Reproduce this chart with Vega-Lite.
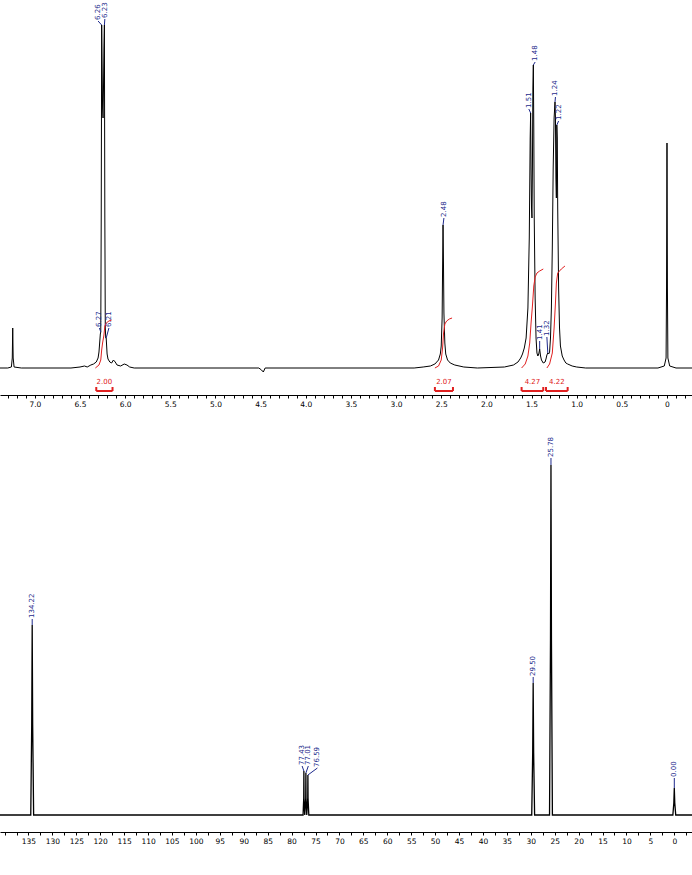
{
  "$schema": "https://vega.github.io/schema/vega-lite/v6.json",
  "padding": 0,
  "spacing": 14,
  "background": "white",
  "config": {
    "view": {"stroke": null},
    "axis": {"labelFont": "DejaVu Sans", "labelFontSize": 7.5, "labelColor": "black", "domainColor": "black", "tickColor": "black", "grid": false, "labelPadding": 2, "labelFlush": false, "labelOverlap": false, "domainWidth": 1, "tickWidth": 1, "tickSize": 3, "tickCount": 300}
  },
  "datasets": {
    "h1": [
      {"ppm": 7.386, "i": 0}, {"ppm": 7.30, "i": 0}, {"ppm": 7.26, "i": 1}, {"ppm": 7.25, "i": 10}, {"ppm": 7.245, "i": 40}, {"ppm": 7.24, "i": 10}, {"ppm": 7.23, "i": 1}, {"ppm": 7.15, "i": 0},
      {"ppm": 6.60, "i": 0}, {"ppm": 6.50, "i": 1}, {"ppm": 6.45, "i": 2}, {"ppm": 6.42, "i": 1}, {"ppm": 6.38, "i": 3}, {"ppm": 6.35, "i": 4}, {"ppm": 6.32, "i": 6}, {"ppm": 6.30, "i": 10}, {"ppm": 6.29, "i": 16}, {"ppm": 6.28, "i": 28}, {"ppm": 6.275, "i": 34}, {"ppm": 6.27, "i": 36},
      {"ppm": 6.265, "i": 150}, {"ppm": 6.26, "i": 343}, {"ppm": 6.255, "i": 300}, {"ppm": 6.25, "i": 260}, {"ppm": 6.245, "i": 250}, {"ppm": 6.24, "i": 280}, {"ppm": 6.235, "i": 320}, {"ppm": 6.23, "i": 343}, {"ppm": 6.225, "i": 150}, {"ppm": 6.22, "i": 40}, {"ppm": 6.215, "i": 30}, {"ppm": 6.21, "i": 30}, {"ppm": 6.205, "i": 22}, {"ppm": 6.20, "i": 14}, {"ppm": 6.19, "i": 9}, {"ppm": 6.17, "i": 6}, {"ppm": 6.15, "i": 5}, {"ppm": 6.13, "i": 8}, {"ppm": 6.11, "i": 6}, {"ppm": 6.09, "i": 3}, {"ppm": 6.05, "i": 2}, {"ppm": 6.01, "i": 4}, {"ppm": 5.98, "i": 3}, {"ppm": 5.95, "i": 1}, {"ppm": 5.90, "i": 0},
      {"ppm": 4.52, "i": 0}, {"ppm": 4.49, "i": -2}, {"ppm": 4.47, "i": -4}, {"ppm": 4.45, "i": 0},
      {"ppm": 2.80, "i": 0}, {"ppm": 2.70, "i": 1}, {"ppm": 2.62, "i": 2}, {"ppm": 2.57, "i": 4}, {"ppm": 2.53, "i": 8}, {"ppm": 2.51, "i": 14}, {"ppm": 2.50, "i": 22}, {"ppm": 2.49, "i": 50}, {"ppm": 2.485, "i": 100}, {"ppm": 2.48, "i": 143}, {"ppm": 2.475, "i": 105}, {"ppm": 2.47, "i": 55}, {"ppm": 2.46, "i": 25}, {"ppm": 2.45, "i": 14}, {"ppm": 2.43, "i": 8}, {"ppm": 2.40, "i": 5}, {"ppm": 2.35, "i": 3}, {"ppm": 2.25, "i": 1}, {"ppm": 2.10, "i": 0},
      {"ppm": 1.80, "i": 1}, {"ppm": 1.70, "i": 3}, {"ppm": 1.65, "i": 6}, {"ppm": 1.62, "i": 10}, {"ppm": 1.60, "i": 14}, {"ppm": 1.58, "i": 20}, {"ppm": 1.56, "i": 30}, {"ppm": 1.54, "i": 60}, {"ppm": 1.525, "i": 130}, {"ppm": 1.515, "i": 230}, {"ppm": 1.51, "i": 255}, {"ppm": 1.505, "i": 200}, {"ppm": 1.50, "i": 160}, {"ppm": 1.495, "i": 150}, {"ppm": 1.49, "i": 200}, {"ppm": 1.485, "i": 280}, {"ppm": 1.48, "i": 303}, {"ppm": 1.475, "i": 240}, {"ppm": 1.47, "i": 150}, {"ppm": 1.46, "i": 70}, {"ppm": 1.45, "i": 30}, {"ppm": 1.44, "i": 15}, {"ppm": 1.43, "i": 12}, {"ppm": 1.42, "i": 14}, {"ppm": 1.41, "i": 19}, {"ppm": 1.40, "i": 12}, {"ppm": 1.39, "i": 8}, {"ppm": 1.37, "i": 5}, {"ppm": 1.35, "i": 6}, {"ppm": 1.34, "i": 9}, {"ppm": 1.33, "i": 13}, {"ppm": 1.32, "i": 15}, {"ppm": 1.31, "i": 14}, {"ppm": 1.30, "i": 16}, {"ppm": 1.29, "i": 30}, {"ppm": 1.28, "i": 60}, {"ppm": 1.27, "i": 120}, {"ppm": 1.26, "i": 200}, {"ppm": 1.25, "i": 250}, {"ppm": 1.24, "i": 266}, {"ppm": 1.235, "i": 250}, {"ppm": 1.23, "i": 190}, {"ppm": 1.225, "i": 170}, {"ppm": 1.22, "i": 243}, {"ppm": 1.215, "i": 230}, {"ppm": 1.21, "i": 160}, {"ppm": 1.20, "i": 80}, {"ppm": 1.19, "i": 40}, {"ppm": 1.18, "i": 22}, {"ppm": 1.16, "i": 12}, {"ppm": 1.14, "i": 8}, {"ppm": 1.12, "i": 5}, {"ppm": 1.10, "i": 4}, {"ppm": 1.05, "i": 2}, {"ppm": 1.00, "i": 1}, {"ppm": 0.90, "i": 0},
      {"ppm": 0.10, "i": 0}, {"ppm": 0.03, "i": 2}, {"ppm": 0.01, "i": 10}, {"ppm": 0.005, "i": 80}, {"ppm": 0.0, "i": 225}, {"ppm": -0.005, "i": 80}, {"ppm": -0.01, "i": 10}, {"ppm": -0.03, "i": 2}, {"ppm": -0.10, "i": 0}, {"ppm": -0.277, "i": 0}
    ],
    "h1lab": [
      {"label": "6.27", "ppm": 6.27, "top": 36, "lx": 6.285, "ly": 40},
      {"label": "6.21", "ppm": 6.21, "top": 30, "lx": 6.18, "ly": 40},
      {"label": "6.26", "ppm": 6.26, "top": 343, "lx": 6.30, "ly": 347},
      {"label": "6.23", "ppm": 6.23, "top": 343, "lx": 6.225, "ly": 349},
      {"label": "2.48", "ppm": 2.48, "top": 143, "lx": 2.47, "ly": 150},
      {"label": "1.51", "ppm": 1.51, "top": 255, "lx": 1.53, "ly": 259},
      {"label": "1.48", "ppm": 1.48, "top": 303, "lx": 1.46, "ly": 306},
      {"label": "1.41", "ppm": 1.41, "top": 19, "lx": 1.41, "ly": 27},
      {"label": "1.32", "ppm": 1.32, "top": 15, "lx": 1.33, "ly": 31},
      {"label": "1.24", "ppm": 1.24, "top": 266, "lx": 1.235, "ly": 271},
      {"label": "1.22", "ppm": 1.22, "top": 243, "lx": 1.20, "ly": 247}
    ],
    "h1int": [
      {"g": "a", "ppm": 6.33, "i": 0}, {"g": "a", "ppm": 6.29, "i": 3}, {"g": "a", "ppm": 6.27, "i": 8}, {"g": "a", "ppm": 6.26, "i": 18}, {"g": "a", "ppm": 6.25, "i": 25}, {"g": "a", "ppm": 6.235, "i": 33}, {"g": "a", "ppm": 6.225, "i": 42}, {"g": "a", "ppm": 6.21, "i": 45}, {"g": "a", "ppm": 6.18, "i": 47}, {"g": "a", "ppm": 6.15, "i": 48},
      {"g": "b", "ppm": 2.57, "i": 0}, {"g": "b", "ppm": 2.53, "i": 2}, {"g": "b", "ppm": 2.50, "i": 8}, {"g": "b", "ppm": 2.485, "i": 20}, {"g": "b", "ppm": 2.475, "i": 34}, {"g": "b", "ppm": 2.46, "i": 44}, {"g": "b", "ppm": 2.44, "i": 47}, {"g": "b", "ppm": 2.41, "i": 49}, {"g": "b", "ppm": 2.38, "i": 50},
      {"g": "c", "ppm": 1.61, "i": 0}, {"g": "c", "ppm": 1.57, "i": 4}, {"g": "c", "ppm": 1.54, "i": 12}, {"g": "c", "ppm": 1.52, "i": 25}, {"g": "c", "ppm": 1.505, "i": 45}, {"g": "c", "ppm": 1.49, "i": 62}, {"g": "c", "ppm": 1.475, "i": 82}, {"g": "c", "ppm": 1.46, "i": 91}, {"g": "c", "ppm": 1.44, "i": 95}, {"g": "c", "ppm": 1.41, "i": 97}, {"g": "c", "ppm": 1.37, "i": 99},
      {"g": "d", "ppm": 1.33, "i": 0}, {"g": "d", "ppm": 1.30, "i": 4}, {"g": "d", "ppm": 1.27, "i": 15}, {"g": "d", "ppm": 1.25, "i": 40}, {"g": "d", "ppm": 1.235, "i": 65}, {"g": "d", "ppm": 1.225, "i": 85}, {"g": "d", "ppm": 1.21, "i": 95}, {"g": "d", "ppm": 1.17, "i": 99}, {"g": "d", "ppm": 1.13, "i": 102}
    ],
    "h1br": [
      {"label": "2.00", "from": 6.32, "to": 6.14, "c": 6.23},
      {"label": "2.07", "from": 2.57, "to": 2.37, "c": 2.47},
      {"label": "4.27", "from": 1.61, "to": 1.37, "c": 1.49},
      {"label": "4.22", "from": 1.34, "to": 1.10, "c": 1.22}
    ],
    "c13": [
      {"ppm": 140.95, "i": 0}, {"ppm": 134.52, "i": 0}, {"ppm": 134.32, "i": 90}, {"ppm": 134.22, "i": 190}, {"ppm": 134.12, "i": 90}, {"ppm": 133.92, "i": 0},
      {"ppm": 77.6, "i": 0}, {"ppm": 77.46, "i": 17}, {"ppm": 77.43, "i": 44}, {"ppm": 77.40, "i": 17}, {"ppm": 77.25, "i": 0}, {"ppm": 77.04, "i": 17}, {"ppm": 77.01, "i": 42}, {"ppm": 76.98, "i": 17}, {"ppm": 76.83, "i": 0}, {"ppm": 76.62, "i": 17}, {"ppm": 76.59, "i": 40}, {"ppm": 76.56, "i": 17}, {"ppm": 76.4, "i": 0},
      {"ppm": 29.8, "i": 0}, {"ppm": 29.6, "i": 62}, {"ppm": 29.5, "i": 132}, {"ppm": 29.4, "i": 62}, {"ppm": 29.2, "i": 0},
      {"ppm": 26.08, "i": 0}, {"ppm": 25.88, "i": 175}, {"ppm": 25.78, "i": 350}, {"ppm": 25.68, "i": 175}, {"ppm": 25.48, "i": 0},
      {"ppm": 0.3, "i": 0}, {"ppm": 0.1, "i": 12}, {"ppm": 0.0, "i": 27}, {"ppm": -0.1, "i": 12}, {"ppm": -0.3, "i": 0}, {"ppm": -3.7, "i": 0}
    ],
    "c13lab": [
      {"label": "134.22", "ppm": 134.22, "top": 190, "lx": 134.22, "ly": 196},
      {"label": "77.43", "ppm": 77.43, "top": 44, "lx": 77.8, "ly": 49},
      {"label": "77.01", "ppm": 77.01, "top": 42, "lx": 76.5, "ly": 49},
      {"label": "76.59", "ppm": 76.59, "top": 40, "lx": 74.6, "ly": 47},
      {"label": "29.50", "ppm": 29.5, "top": 132, "lx": 29.5, "ly": 138},
      {"label": "25.78", "ppm": 25.78, "top": 350, "lx": 25.78, "ly": 357},
      {"label": "0.00", "ppm": 0.0, "top": 27, "lx": 0.0, "ly": 37}
    ]
  },
  "vconcat": [
    {
      "width": 692,
      "height": 395,
      "layer": [
        {
          "data": {"name": "h1"},
          "mark": {"type": "line", "color": "black", "strokeWidth": 1, "clip": true},
          "encoding": {
            "x": {"field": "ppm", "type": "quantitative", "title": null, "scale": {"domain": [-0.277, 7.386], "reverse": true, "nice": false, "zero": false},
              "axis": {"title": null, "tickCount": 300, "values": [-0.2,-0.1,0,0.1,0.2,0.3,0.4,0.5,0.6,0.7,0.8,0.9,1,1.1,1.2,1.3,1.4,1.5,1.6,1.7,1.8,1.9,2,2.1,2.2,2.3,2.4,2.5,2.6,2.7,2.8,2.9,3,3.1,3.2,3.3,3.4,3.5,3.6,3.7,3.8,3.9,4,4.1,4.2,4.3,4.4,4.5,4.6,4.7,4.8,4.9,5,5.1,5.2,5.3,5.4,5.5,5.6,5.7,5.8,5.9,6,6.1,6.2,6.3,6.4,6.5,6.6,6.7,6.8,6.9,7,7.1,7.2,7.3],
                "labelExpr": "abs(datum.value*2 - round(datum.value*2)) < 0.01 ? (datum.value == 0 ? '0' : format(datum.value, '.1f')) : ''"}},
            "y": {"field": "i", "type": "quantitative", "scale": {"domain": [-27, 368], "nice": false, "zero": false}, "axis": null}
          }
        },
        {
          "data": {"name": "h1int"},
          "mark": {"type": "line", "color": "#e02020", "strokeWidth": 1, "clip": true},
          "encoding": {
            "x": {"field": "ppm", "type": "quantitative", "title": null, "scale": {"domain": [-0.277, 7.386], "reverse": true, "nice": false, "zero": false}},
            "y": {"field": "i", "type": "quantitative", "scale": {"domain": [-27, 368], "nice": false, "zero": false}, "axis": null},
            "detail": {"field": "g"}
          }
        },
        {
          "data": {"name": "h1lab"},
          "mark": {"type": "rule", "color": "#1e2a8c", "strokeWidth": 1},
          "encoding": {
            "x": {"field": "ppm", "type": "quantitative", "title": null, "scale": {"domain": [-0.277, 7.386], "reverse": true, "nice": false, "zero": false}},
            "x2": {"field": "lx"},
            "y": {"field": "top", "type": "quantitative", "scale": {"domain": [-27, 368], "nice": false, "zero": false}, "axis": null},
            "y2": {"field": "ly"}
          }
        },
        {
          "data": {"name": "h1lab"},
          "mark": {"type": "text", "angle": 270, "align": "left", "baseline": "middle", "dx": 1, "fontSize": 7, "font": "DejaVu Sans", "color": "#1e2a8c"},
          "encoding": {
            "x": {"field": "lx", "type": "quantitative", "title": null, "scale": {"domain": [-0.277, 7.386], "reverse": true, "nice": false, "zero": false}},
            "y": {"field": "ly", "type": "quantitative", "scale": {"domain": [-27, 368], "nice": false, "zero": false}, "axis": null},
            "text": {"field": "label"}
          }
        },
        {
          "data": {"name": "h1br"},
          "mark": {"type": "rule", "color": "#e02020", "strokeWidth": 2},
          "encoding": {
            "x": {"field": "from", "type": "quantitative", "title": null, "scale": {"domain": [-0.277, 7.386], "reverse": true, "nice": false, "zero": false}},
            "x2": {"field": "to"},
            "y": {"datum": -23, "type": "quantitative", "scale": {"domain": [-27, 368], "nice": false, "zero": false}, "axis": null}
          }
        },
        {
          "data": {"name": "h1br"},
          "mark": {"type": "rule", "color": "#e02020", "strokeWidth": 2},
          "encoding": {
            "x": {"field": "from", "type": "quantitative", "title": null, "scale": {"domain": [-0.277, 7.386], "reverse": true, "nice": false, "zero": false}},
            "y": {"datum": -23, "type": "quantitative", "scale": {"domain": [-27, 368], "nice": false, "zero": false}, "axis": null},
            "y2": {"datum": -19}
          }
        },
        {
          "data": {"name": "h1br"},
          "mark": {"type": "rule", "color": "#e02020", "strokeWidth": 2},
          "encoding": {
            "x": {"field": "to", "type": "quantitative", "title": null, "scale": {"domain": [-0.277, 7.386], "reverse": true, "nice": false, "zero": false}},
            "y": {"datum": -23, "type": "quantitative", "scale": {"domain": [-27, 368], "nice": false, "zero": false}, "axis": null},
            "y2": {"datum": -19}
          }
        },
        {
          "data": {"name": "h1br"},
          "mark": {"type": "text", "align": "center", "baseline": "middle", "fontSize": 7, "font": "DejaVu Sans", "color": "#e02020"},
          "encoding": {
            "x": {"field": "c", "type": "quantitative", "title": null, "scale": {"domain": [-0.277, 7.386], "reverse": true, "nice": false, "zero": false}},
            "y": {"datum": -14, "type": "quantitative", "scale": {"domain": [-27, 368], "nice": false, "zero": false}, "axis": null},
            "text": {"field": "label"}
          }
        }
      ]
    },
    {
      "width": 692,
      "height": 410,
      "layer": [
        {
          "data": {"name": "c13"},
          "mark": {"type": "line", "color": "black", "strokeWidth": 1.3, "clip": true},
          "encoding": {
            "x": {"field": "ppm", "type": "quantitative", "title": null, "scale": {"domain": [-3.7, 140.95], "reverse": true, "nice": false, "zero": false},
              "axis": {"title": null, "tickCount": 300, "values": [-2.5,0,2.5,5,7.5,10,12.5,15,17.5,20,22.5,25,27.5,30,32.5,35,37.5,40,42.5,45,47.5,50,52.5,55,57.5,60,62.5,65,67.5,70,72.5,75,77.5,80,82.5,85,87.5,90,92.5,95,97.5,100,102.5,105,107.5,110,112.5,115,117.5,120,122.5,125,127.5,130,132.5,135,137.5,140],
                "labelExpr": "(abs(datum.value/5 - round(datum.value/5)) < 0.01 && datum.value <= 135) ? format(datum.value, 'd') : ''"}},
            "y": {"field": "i", "type": "quantitative", "scale": {"domain": [-17, 393], "nice": false, "zero": false}, "axis": null}
          }
        },
        {
          "data": {"name": "c13lab"},
          "mark": {"type": "rule", "color": "#1e2a8c", "strokeWidth": 1},
          "encoding": {
            "x": {"field": "ppm", "type": "quantitative", "title": null, "scale": {"domain": [-3.7, 140.95], "reverse": true, "nice": false, "zero": false}},
            "x2": {"field": "lx"},
            "y": {"field": "top", "type": "quantitative", "scale": {"domain": [-17, 393], "nice": false, "zero": false}, "axis": null},
            "y2": {"field": "ly"}
          }
        },
        {
          "data": {"name": "c13lab"},
          "mark": {"type": "text", "angle": 270, "align": "left", "baseline": "middle", "dx": 1, "fontSize": 7, "font": "DejaVu Sans", "color": "#1e2a8c"},
          "encoding": {
            "x": {"field": "lx", "type": "quantitative", "title": null, "scale": {"domain": [-3.7, 140.95], "reverse": true, "nice": false, "zero": false}},
            "y": {"field": "ly", "type": "quantitative", "scale": {"domain": [-17, 393], "nice": false, "zero": false}, "axis": null},
            "text": {"field": "label"}
          }
        }
      ]
    }
  ]
}
